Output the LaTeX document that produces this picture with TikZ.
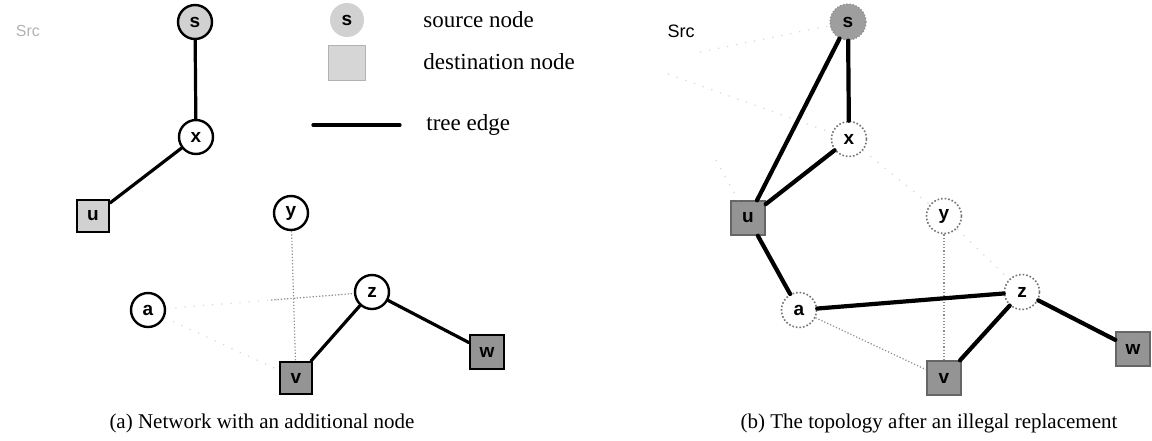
\documentclass[tikz,border=0pt]{standalone}
\usepackage{fontspec}
\usetikzlibrary{calc}
\setmainfont{Liberation Serif}
\newfontfamily\hv{Liberation Sans}
\begin{document}
\begin{tikzpicture}[x=0.5pt,y=-0.5pt,
  lbl/.style={font=\hv\bfseries\fontsize{9.5}{9.5}\selectfont, inner sep=0pt},
  rnode/.style={lbl, circle, draw=black, line width=1.2pt, minimum size=17pt, fill=white},
  snode/.style={lbl, rectangle, draw=black, line width=1.1pt, minimum size=16pt},
  faintc/.style={lbl, circle, draw=black!55, densely dotted, line width=0.8pt, minimum size=17.5pt, fill=white},
  fainted/.style={lbl, rectangle, draw=black!60, line width=0.7pt, minimum size=17pt},
  lightfill/.style={fill=black!18},
  darkfill/.style={fill=black!42},
  tree/.style={line width=1.6pt, line cap=round},
  treeb/.style={line width=2.1pt, line cap=round},
  graph/.style={black!45, densely dotted, line width=0.6pt},
  ghost/.style={black!16, loosely dotted, line width=0.6pt},
  legtext/.style={anchor=west, font=\fontsize{11.5}{12}\selectfont, inner sep=0pt},
  caption/.style={font=\fontsize{10.5}{12}\selectfont, inner sep=0pt}
]
\useasboundingbox (0,0) rectangle (1152,440);

% ---------------- (a) network with an additional node ----------------
\node[font=\hv\fontsize{8}{8}\selectfont, text=black!30] (srcA) at (28,31) {Src};
\node[rnode, lightfill] (sA) at (195,22) {s};
\node[rnode] (xA) at (196,137) {x};
\node[snode, lightfill] (uA) at (93,216) {u};
\node[rnode] (yA) at (291,213) {y};
\node[rnode] (aA) at (148,310) {a};
\node[rnode] (zA) at (372,292) {z};
\node[snode, darkfill] (vA) at (296,378) {v};
\node[snode, darkfill, minimum size=17pt] (wA) at (487,352) {w};

\draw[graph] (yA) -- (vA);
\draw[ghost] (aA) -- (zA);
\coordinate (midAZ) at ($(aA)!0.55!(zA)$);
\draw[graph] (midAZ) -- (zA);
\draw[ghost] (aA) -- (vA);
\draw[tree] (sA) -- (xA);
\draw[tree] (xA) -- (uA);
\draw[tree] (zA) -- (vA);
\draw[tree] (zA) -- (wA);

% legend
\node[circle, fill=black!18, minimum size=17pt, inner sep=0pt,
      font=\hv\bfseries\fontsize{9.5}{9.5}\selectfont] (legS) at (347,20) {s};
\node[rectangle, fill=black!16, draw=black!30, line width=0.4pt,
      minimum width=18.5pt, minimum height=17.5pt] (legD) at (347,63) {};
\coordinate (legL1) at (313,125);
\coordinate (legL2) at (400,125);
\draw[tree] (legL1) -- (legL2);
\node[legtext] (legST) at (423,20) {source node};
\node[legtext] (legDT) at (423,62) {destination node};
\node[legtext] (legTT) at (426,125) {tree edge};

\node[caption] (capA) at (262,423) {(a) Network with an additional node};

% ---------------- (b) topology after an illegal replacement ----------------
\node[font=\hv\fontsize{9}{9}\selectfont] (srcB) at (681,31) {Src};
\node[lbl, circle, fill=black!38, draw=black!45, densely dotted, line width=0.6pt,
      minimum size=18pt] (sB) at (848,22) {s};
\node[faintc] (xB) at (849,139) {x};
\node[fainted, darkfill] (uB) at (748,218) {u};
\node[faintc] (yB) at (944,216) {y};
\node[faintc] (aB) at (799,310) {a};
\node[faintc] (zB) at (1022,292) {z};
\node[fainted, darkfill] (vB) at (944,378) {v};
\node[fainted, darkfill] (wB) at (1133,349) {w};

\coordinate (gB1) at (700,52);
\coordinate (gB2) at (668,74);
\coordinate (gB3) at (716,160);
\draw[ghost] (gB1) -- (sB);
\draw[ghost] (gB2) -- (xB);
\draw[ghost] (gB3) -- (uB);
\draw[ghost] (xB) -- (yB);
\draw[graph] (yB) -- (vB);
\draw[graph] (aB) -- (vB);
\draw[ghost] (yB) -- (zB);

\draw[treeb] (sB) -- (uB);
\draw[treeb] (sB) -- (xB);
\draw[treeb] (xB) -- (uB);
\draw[treeb] (uB) -- (aB);
\draw[treeb] (aB) -- (zB);
\draw[treeb] (zB) -- (vB);
\draw[treeb] (zB) -- (wB);

\node[caption] (capB) at (929,423) {(b) The topology after an illegal replacement};
\end{tikzpicture}
\end{document}
